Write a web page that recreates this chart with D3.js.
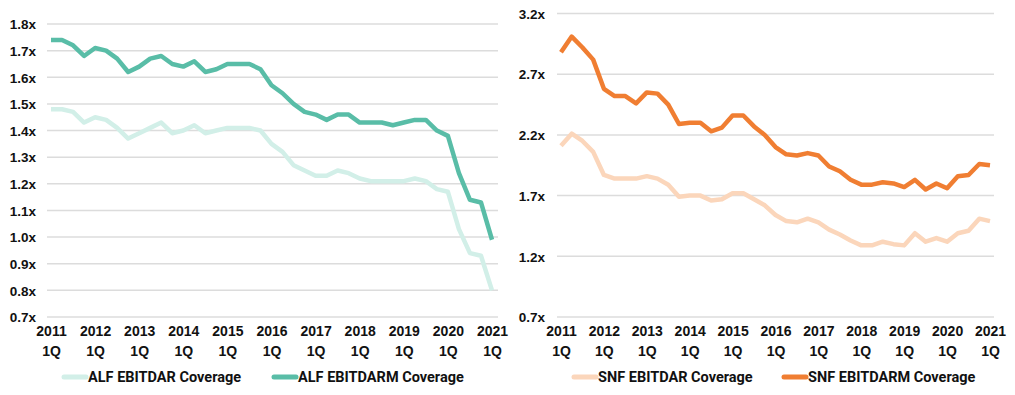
<!DOCTYPE html>
<html>
<head>
<meta charset="utf-8">
<script src="https://cdn.jsdelivr.net/npm/d3@7"></script>
<style>
  body { margin: 0; background: #fff; }
  svg { display: block; font-family: Roboto, "DejaVu Sans", sans-serif; }
  .tick text { font-size: 13.5px; font-weight: 700; fill: #111; }
  .xax .tick text { font-size: 14px; }
  .legend text { font-size: 14.5px; font-weight: 700; fill: #111; }
</style>
</head>
<body>
<svg id="chart" width="1015" height="395"></svg>
<script>
// quarter index 0..40 = 2011 1Q .. 2021 1Q
var quarters = d3.range(41);
var yearLabels = ["2011","2012","2013","2014","2015","2016","2017","2018","2019","2020","2021"];

var alfEbitdar = [1.48,1.48,1.47,1.43,1.45,1.44,1.41,1.37,1.39,1.41,1.43,1.39,1.40,1.42,1.39,1.40,
  1.41,1.41,1.41,1.40,1.35,1.32,1.27,1.25,1.23,1.23,1.25,1.24,1.22,1.21,1.21,1.21,1.21,1.22,1.21,
  1.18,1.17,1.03,0.94,0.93,0.80];
var alfEbitdarm = [1.74,1.74,1.72,1.68,1.71,1.70,1.67,1.62,1.64,1.67,1.68,1.65,1.64,1.66,1.62,1.63,
  1.65,1.65,1.65,1.63,1.57,1.54,1.50,1.47,1.46,1.44,1.46,1.46,1.43,1.43,1.43,1.42,1.43,1.44,1.44,
  1.40,1.38,1.24,1.14,1.13,0.99];

var snfEbitdar = [2.11,2.21,2.15,2.06,1.87,1.84,1.84,1.84,1.86,1.84,1.79,1.69,1.70,1.70,1.66,1.67,
  1.72,1.72,1.67,1.62,1.54,1.49,1.48,1.51,1.48,1.42,1.38,1.33,1.29,1.29,1.32,1.30,1.29,1.39,1.32,
  1.35,1.32,1.39,1.41,1.51,1.49];
var snfEbitdarm = [2.88,3.01,2.92,2.82,2.58,2.52,2.52,2.46,2.55,2.54,2.45,2.29,2.30,2.30,2.23,2.26,
  2.36,2.36,2.27,2.20,2.10,2.04,2.03,2.05,2.03,1.94,1.90,1.83,1.79,1.79,1.81,1.80,1.77,1.83,1.75,
  1.80,1.76,1.86,1.87,1.96,1.95];

var leftTicks = [0.7,0.8,0.9,1.0,1.1,1.2,1.3,1.4,1.5,1.6,1.7,1.8];
var rightTicks = [0.7,1.2,1.7,2.2,2.7,3.2];

var svg = d3.select("#chart");

var panels = [
  { x0: 51, x1: 492, g0: 47, g1: 498, labelX: 36, yDomain: [0.7, 1.8], top: 24, ticks: leftTicks,
    series: [
      { name: "ALF EBITDAR Coverage", values: alfEbitdar, color: "#d2efe8" },
      { name: "ALF EBITDARM Coverage", values: alfEbitdarm, color: "#59bda7" }
    ],
    legendX: [62, 272] },
  { x0: 561, x1: 990, g0: 557, g1: 994, labelX: 545, yDomain: [0.7, 3.2], top: 13.5, ticks: rightTicks,
    series: [
      { name: "SNF EBITDAR Coverage", values: snfEbitdar, color: "#fbd6bb" },
      { name: "SNF EBITDARM Coverage", values: snfEbitdarm, color: "#f07e32" }
    ],
    legendX: [572, 782] }
];

panels.forEach(function(p) {
  var x = d3.scaleLinear().domain([0, 40]).range([p.x0, p.x1]);
  var y = d3.scaleLinear().domain(p.yDomain).range([317, p.top]);

  // gridlines
  svg.append("g").selectAll("line").data(p.ticks).join("line")
    .attr("x1", p.g0).attr("x2", p.g1)
    .attr("y1", function(d) { return y(d); }).attr("y2", function(d) { return y(d); })
    .attr("stroke", "#dcdcdc").attr("stroke-width", 1.5);

  // y axis labels
  var yAxis = d3.axisLeft(y).tickValues(p.ticks).tickSize(0)
    .tickFormat(function(d) { return d.toFixed(1) + "x"; });
  svg.append("g").attr("transform", "translate(" + p.labelX + ",0)").call(yAxis)
    .call(function(g) { g.select(".domain").remove(); })
    .selectAll("text").attr("x", 0).attr("dy", "0.35em");

  // x axis labels, year + 1Q
  var xAxis = d3.axisBottom(x).tickValues(d3.range(0, 41, 4)).tickSize(0)
    .tickFormat(function(d) { return yearLabels[d / 4]; });
  var xg = svg.append("g").attr("class", "xax").attr("transform", "translate(0,326)").call(xAxis);
  xg.select(".domain").remove();
  xg.selectAll(".tick text").attr("y", 0).attr("dy", "0.72em")
    .each(function() {
      var t = d3.select(this), yr = t.text();
      t.text(null);
      t.append("tspan").attr("x", 0).text(yr);
      t.append("tspan").attr("x", 0).attr("dy", "20px").text("1Q");
    });

  // lines
  p.series.forEach(function(s) {
    var line = d3.line()
      .x(function(d, i) { return x(quarters[i]); })
      .y(function(d) { return y(d); });
    svg.append("path").datum(s.values)
      .attr("d", line)
      .attr("fill", "none")
      .attr("stroke", s.color)
      .attr("stroke-width", 4.5)
      .attr("stroke-linejoin", "round");
  });

  // legend
  var lg = svg.append("g").attr("class", "legend");
  p.series.forEach(function(s, k) {
    var lx = p.legendX[k];
    lg.append("line").attr("x1", lx + 2).attr("x2", lx + 24)
      .attr("y1", 377).attr("y2", 377)
      .attr("stroke", s.color).attr("stroke-width", 5).attr("stroke-linecap", "round");
    lg.append("text").attr("x", lx + 26).attr("y", 377).attr("dy", "0.35em").text(s.name);
  });
});
</script>
</body>
</html>
